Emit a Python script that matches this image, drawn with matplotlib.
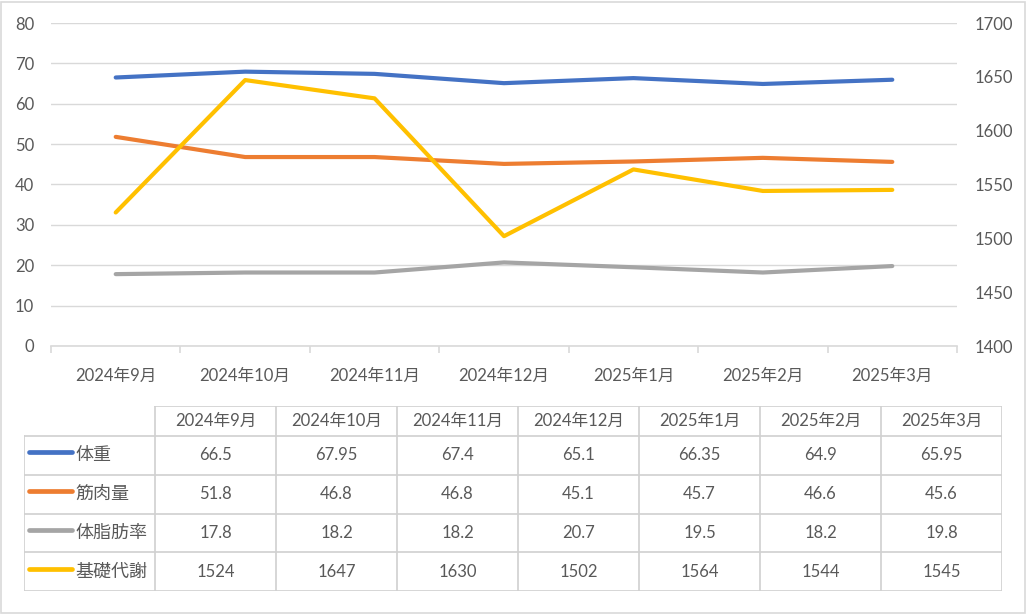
import numpy as np
import matplotlib
matplotlib.use('Agg')
import matplotlib.pyplot as plt
from matplotlib.lines import Line2D
from matplotlib.patches import Rectangle

plt.rcParams['font.family'] = ['Lato', 'Noto Sans CJK JP', 'DejaVu Sans']

# data
months = ['2024年9月', '2024年10月', '2024年11月', '2024年12月',
          '2025年1月', '2025年2月', '2025年3月']
weight = [66.5, 67.95, 67.4, 65.1, 66.35, 64.9, 65.95]
muscle = [51.8, 46.8, 46.8, 45.1, 45.7, 46.6, 45.6]
fat = [17.8, 18.2, 18.2, 20.7, 19.5, 18.2, 19.8]
bmr = [1524, 1647, 1630, 1502, 1564, 1544, 1545]

names = ['体重', '筋肉量', '体脂肪率', '基礎代謝']
colors = ['#4472C4', '#ED7D31', '#A5A5A5', '#FFC000']
txt = '#595959'
grid = '#D9D9D9'
fs = 12

W, H = 1027, 614
fig = plt.figure(figsize=(W / 100, H / 100), dpi=100)

# outer border
fig.patches.append(Rectangle((1 / W, 1 / H), 1 - 3 / W, 1 - 3 / H,
                             transform=fig.transFigure, fill=False,
                             edgecolor=grid, lw=1.2))

ax = fig.add_axes([51 / W, (H - 346) / H, (957 - 51) / W, (346 - 23) / H])
x = np.arange(len(months))
ax.plot(x, weight, color=colors[0], lw=3, solid_capstyle='round')
ax.plot(x, muscle, color=colors[1], lw=3, solid_capstyle='round')
ax.plot(x, fat, color=colors[2], lw=3, solid_capstyle='round')
ax.set_xlim(-0.5, len(months) - 0.5)
ax.set_ylim(0, 80)
ax.set_yticks(np.arange(0, 81, 10))
ax.grid(axis='y', color=grid, lw=1)
ax.set_axisbelow(True)
for s in ['top', 'left', 'right']:
    ax.spines[s].set_visible(False)
ax.spines['bottom'].set_color(grid)
ax.spines['bottom'].set_linewidth(1.2)
ax.set_xticks(x)
ax.set_xticklabels(months)
ax.set_xticks(np.arange(-0.5, len(months)), minor=True)
ax.tick_params(axis='x', which='major', length=0, pad=16, labelsize=fs, labelcolor=txt)
ax.tick_params(axis='x', which='minor', length=5, color=grid, width=1.2)
ax.tick_params(axis='y', length=0, pad=12, labelsize=fs, labelcolor=txt)

ax2 = ax.twinx()
ax2.plot(x, bmr, color=colors[3], lw=3, solid_capstyle='round')
ax2.set_ylim(1400, 1700)
ax2.set_yticks(np.arange(1400, 1701, 50))
for s in ax2.spines.values():
    s.set_visible(False)
ax2.tick_params(axis='y', length=0, pad=13, labelsize=fs, labelcolor=txt)

# data table
tx0, tx1, ty0, ty1 = 24, 1002, 406, 591
tb = fig.add_axes([tx0 / W, (H - ty1) / H, (tx1 - tx0) / W, (ty1 - ty0) / H])
tb.set_xlim(0, tx1 - tx0)
tb.set_ylim(ty1 - ty0, 0)
tb.axis('off')
lab_w = 131
col_w = (tx1 - tx0 - lab_w) / len(months)
head_h = 30
row_h = (ty1 - ty0 - head_h) / len(names)
xe = [0] + [lab_w + col_w * k for k in range(len(months) + 1)]
ye = [0] + [head_h + row_h * k for k in range(len(names) + 1)]
lc = '#D0D0D0'
lw = 1.2
# horizontal lines
tb.plot([lab_w, xe[-1]], [0, 0], color=lc, lw=lw)
for yy in ye[1:]:
    tb.plot([0, xe[-1]], [yy, yy], color=lc, lw=lw)
# vertical lines
tb.plot([0, 0], [head_h, ye[-1]], color=lc, lw=lw)
for xx in xe[1:]:
    tb.plot([xx, xx], [0, ye[-1]], color=lc, lw=lw)

for j, m in enumerate(months):
    tb.text((xe[j + 1] + xe[j + 2]) / 2, head_h / 2, m, ha='center', va='center',
            fontsize=fs, color=txt)

rows = [weight, muscle, fat, bmr]
for i, (nm, vals) in enumerate(zip(names, rows)):
    yc = (ye[i + 1] + ye[i + 2]) / 2
    tb.add_line(Line2D([5, 48], [yc - 3, yc - 3], color=colors[i], lw=3.4,
                       solid_capstyle='round'))
    tb.text(51, yc, nm, ha='left', va='center', fontsize=13, color=txt)
    for j, v in enumerate(vals):
        tb.text((xe[j + 1] + xe[j + 2]) / 2, yc, f'{v:g}', ha='center', va='center',
                fontsize=fs, color=txt)

fig.savefig('out.png', dpi=100)
